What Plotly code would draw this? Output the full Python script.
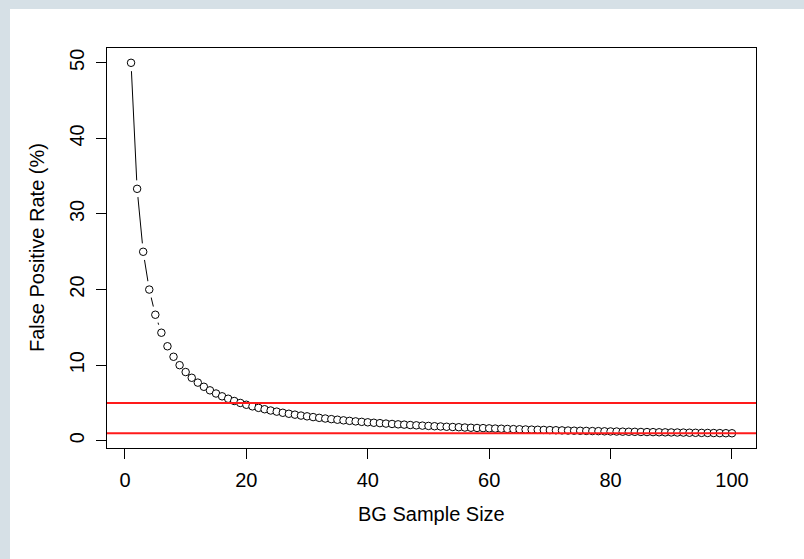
import plotly.graph_objects as go

sample_size = list(range(1, 101))
false_pos_rate = [
    50.00, 33.33, 25.00, 20.00, 16.67, 14.29, 12.50, 11.11, 10.00, 9.09,
    8.33, 7.69, 7.14, 6.67, 6.25, 5.88, 5.56, 5.26, 5.00, 4.76,
    4.55, 4.35, 4.17, 4.00, 3.85, 3.70, 3.57, 3.45, 3.33, 3.23,
    3.13, 3.03, 2.94, 2.86, 2.78, 2.70, 2.63, 2.56, 2.50, 2.44,
    2.38, 2.33, 2.27, 2.22, 2.17, 2.13, 2.08, 2.04, 2.00, 1.96,
    1.92, 1.89, 1.85, 1.82, 1.79, 1.75, 1.72, 1.69, 1.67, 1.64,
    1.61, 1.59, 1.56, 1.54, 1.52, 1.49, 1.47, 1.45, 1.43, 1.41,
    1.39, 1.37, 1.35, 1.33, 1.32, 1.30, 1.28, 1.27, 1.25, 1.23,
    1.22, 1.20, 1.19, 1.18, 1.16, 1.15, 1.14, 1.12, 1.11, 1.10,
    1.09, 1.08, 1.06, 1.05, 1.04, 1.03, 1.02, 1.01, 1.00, 0.99,
]
thresholds = [5, 1]
x_ticks = [0, 20, 40, 60, 80, 100]
y_ticks = [0, 10, 20, 30, 40, 50]

FONT = "Liberation Sans, Arial, Helvetica, sans-serif"
FS = 20
BLUE = "#d6e0e6"

fig = go.Figure()
fig.add_trace(go.Scatter(x=sample_size, y=false_pos_rate, mode="lines",
                         line=dict(color="black", width=1), hoverinfo="skip"))
fig.add_trace(go.Scatter(x=sample_size, y=false_pos_rate, mode="markers",
                         marker=dict(symbol="circle", size=17, color="white",
                                     line=dict(width=0)), hoverinfo="skip"))
fig.add_trace(go.Scatter(x=sample_size, y=false_pos_rate, mode="markers",
                         marker=dict(symbol="circle", size=7.5, color="white",
                                     line=dict(color="black", width=1))))

W, H = 804, 559
L, R, T, B = 107, 48, 48, 111
pw, ph = W - L - R, H - T - B

def px_x(p):
    return (p - L) / pw

def px_y(p):
    return (H - B - p) / ph

shapes = [
    dict(type="rect", xref="paper", yref="paper", x0=px_x(-5), x1=px_x(W + 5),
         y0=px_y(9), y1=px_y(-5), fillcolor=BLUE, line=dict(width=0), layer="below"),
    dict(type="rect", xref="paper", yref="paper", x0=px_x(-5), x1=px_x(10),
         y0=px_y(H + 5), y1=px_y(-5), fillcolor=BLUE, line=dict(width=0), layer="below"),
]
for t in thresholds:
    shapes.append(dict(type="line", xref="paper", yref="y", x0=0, x1=1, y0=t, y1=t,
                       line=dict(color="#ff1a1a", width=2), layer="above"))

fig.update_layout(
    width=W, height=H,
    paper_bgcolor="white",
    plot_bgcolor="white",
    showlegend=False,
    margin=dict(l=L, r=R, t=T, b=B, pad=0),
    font=dict(family=FONT, size=FS, color="black"),
    shapes=shapes,
    annotations=[
        dict(text="BG Sample Size", xref="paper", yref="paper", x=0.5, y=px_y(514),
             xanchor="center", yanchor="middle", showarrow=False,
             font=dict(family=FONT, size=FS, color="black")),
        dict(text="False Positive Rate (%)", xref="paper", yref="paper", x=px_x(37), y=0.5,
             xanchor="center", yanchor="middle", showarrow=False, textangle=-90,
             font=dict(family=FONT, size=FS, color="black")),
    ],
)
fig.update_xaxes(range=[-2.96, 103.96], tickvals=x_ticks, ticks="outside", ticklen=10,
                 tickcolor="black", tickwidth=1, showgrid=False, zeroline=False,
                 showline=True, mirror=True, linecolor="black", linewidth=1,
                 ticklabelstandoff=4)
fig.update_yaxes(range=[-0.96, 51.96], tickvals=y_ticks, ticks="outside", ticklen=10,
                 tickcolor="black", tickwidth=1, showgrid=False, zeroline=False,
                 showline=True, mirror=True, linecolor="black", linewidth=1,
                 tickangle=-90, ticklabelstandoff=4)

fig.write_html("out.html",
               post_script="document.body.style.margin='0';"
                           "document.body.style.overflow='hidden';")
